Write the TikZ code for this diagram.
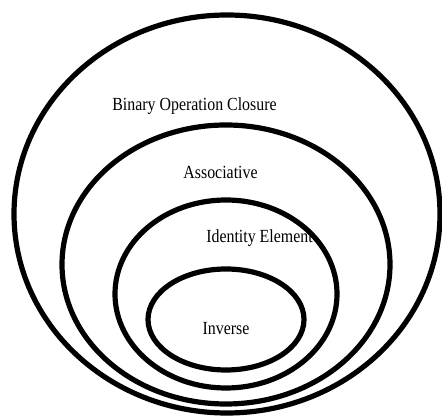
\documentclass[tikz,border=0pt]{standalone}
\usepackage{fontspec}
\setmainfont{Liberation Serif}

\begin{document}
\begin{tikzpicture}[x=1pt, y=1pt, ring/.style={line width=5.2pt},
  every node/.style={font=\fontsize{18.5}{20}\selectfont, xscale=0.86, anchor=base, inner sep=0pt}]
\useasboundingbox (0,0) rectangle (442,417);

% Binary Operation Closure
\draw[ring] (227,203) ellipse [x radius=213, y radius=199];
\node (closure) at (194.5,306) {Binary Operation Closure};

% Associative
\draw[ring] (226,152.5) ellipse [x radius=164, y radius=139.5];
\node (assoc) at (220.5,238) {Associative};

% Identity Element
\draw[ring] (226,123) ellipse [x radius=111, y radius=94];
\node (identity) at (259.5,174) {Identity Element};

% Inverse
\draw[ring] (226,97.5) ellipse [x radius=78, y radius=50.5];
\node (inverse) at (226,82) {Inverse};
\end{tikzpicture}
\end{document}
